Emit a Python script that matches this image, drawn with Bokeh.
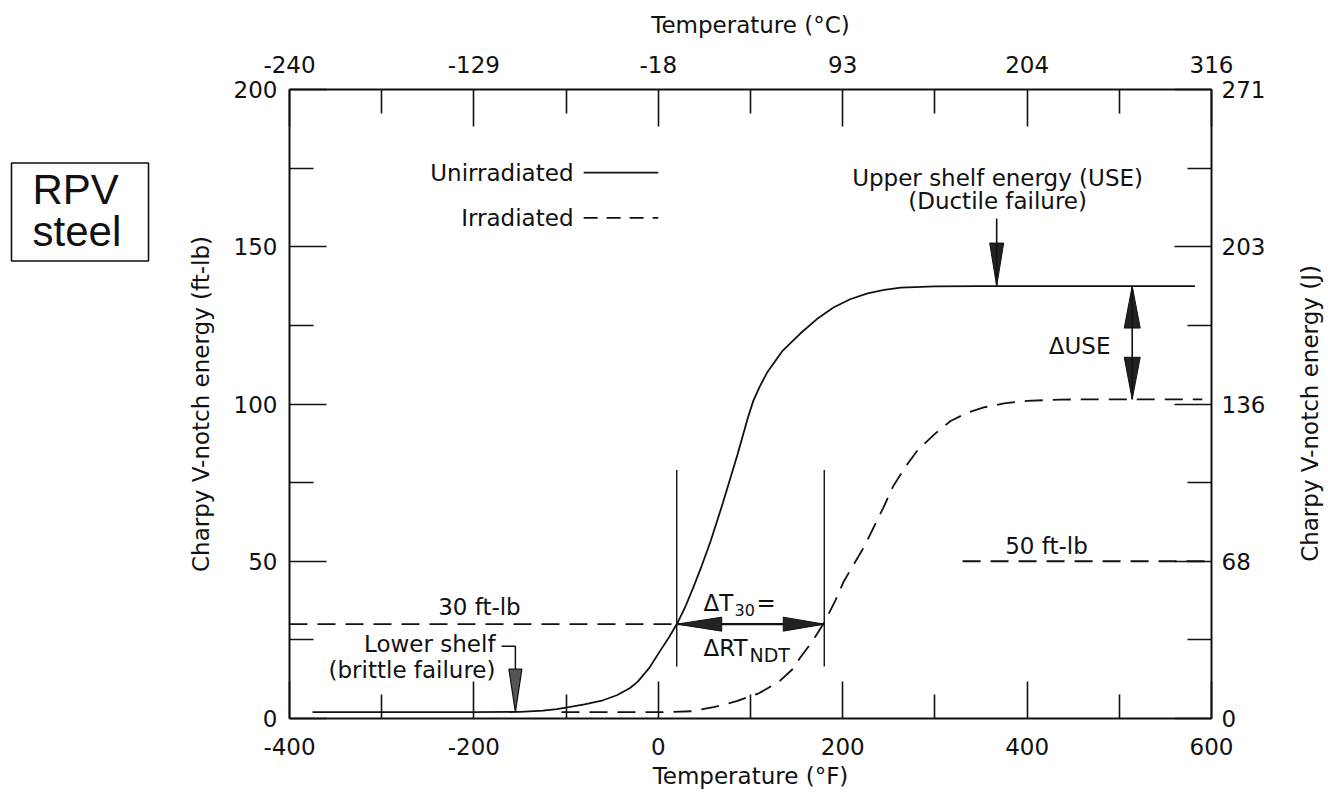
import math
from bokeh.plotting import figure
from bokeh.models import LinearAxis, FixedTicker, Range1d, Label
from bokeh.layouts import row
from bokeh.embed import file_html
from bokeh.resources import INLINE
from bokeh.core.properties import value

# ---------------- data ----------------
temp_unirr_F = [-375, -300, -200, -150, -125, -110, -97, -80, -60, -45, -31, -22, -10, 2, 12, 21,
                30, 38, 47, 57, 70, 86, 97, 103, 110, 118, 135, 154, 172, 190, 208, 227, 245,
                263, 300, 350, 582]
cvn_unirr = [2.0, 2.0, 2.0, 2.1, 2.5, 3.0, 3.6, 4.5, 5.8, 7.4, 9.6, 11.8, 16.0, 21.5, 26.0, 30.5,
             36.0, 41.7, 48.5, 56.6, 68.5, 84.0, 95.5, 101.0, 105.5, 110.0, 117.0, 122.4, 127.0,
             130.7, 133.3, 135.2, 136.3, 137.0, 137.4, 137.5, 137.5]

temp_irr_F = [-105, 0, 36, 60, 85, 109, 130, 145, 154, 167, 180, 192, 201, 212, 223, 234, 244,
              255, 268, 281, 300, 317, 335, 353, 375, 400, 436, 470, 590]
cvn_irr = [2.0, 2.0, 2.3, 3.6, 5.5, 8.0, 11.5, 15.5, 19.4, 24.5, 30.5, 37.5, 43.5, 49.0, 54.5,
           61.0, 67.0, 74.0, 80.0, 85.2, 90.5, 94.6, 97.2, 98.9, 100.2, 101.0, 101.4, 101.5, 101.5]

x_major_F = [-400, -200, 0, 200, 400, 600]
x_minor_F = [-300, -100, 100, 300, 500]
x_labels_F = ["-400", "-200", "0", "200", "400", "600"]
x_labels_C = ["-240", "-129", "-18", "93", "204", "316"]
y_major = [0, 50, 100, 150, 200]
y_minor = [25, 75, 125, 175]
y_labels_ftlb = ["0", "50", "100", "150", "200"]
y_labels_J = ["0", "68", "136", "203", "271"]

# annotation values (ft-lb / degF)
lower_shelf = 2.0
use_unirr = 137.5
use_irr = 101.5
level_30 = 30
level_50 = 50
level_50_start = 330
t30_unirr = 20
t30_irr = 180
t30_bar_lo, t30_bar_hi = 16.5, 79
use_arrow_T, use_arrow_top = 367, 159
duse_T = 514
ls_arrow_T, ls_leader_T, ls_leader_E = -155, -170, 23
legend_line_T = [-81, 0]
legend_text_T = -92
legend_E = [173.6, 159.2]

# ---------------- layout ----------------
FONT = "DejaVu Sans"
FS = "23px"
INK = "#111111"
W_BOX, W_MAIN, W_RIGHT, H = 158, 1113, 55, 796
BL, BR, BT, BB = 131, 60, 89, 78
X0, X1, Y0, Y1 = -400, 600, 0, 200
sx = (W_MAIN - BL - BR) / (X1 - X0)
sy = (H - BT - BB) / (Y1 - Y0)

p = figure(width=W_MAIN, height=H, x_range=Range1d(X0, X1), y_range=Range1d(Y0, Y1),
           output_backend="svg", toolbar_location=None,
           x_axis_location=None, y_axis_location=None,
           min_border_left=BL, min_border_right=BR, min_border_top=BT, min_border_bottom=BB,
           outline_line_color=None, background_fill_color="white", border_fill_color="white")
p.grid.visible = False


def style_axis(ax, major, minor, labels, lab_standoff):
    ax.ticker = FixedTicker(ticks=major, minor_ticks=minor)
    ax.major_label_overrides = {t: s for t, s in zip(major, labels)}
    ax.major_tick_in = 37
    ax.major_tick_out = 0
    ax.minor_tick_in = 24
    ax.minor_tick_out = 0
    ax.axis_line_width = 2
    ax.axis_line_color = INK
    ax.major_tick_line_width = 1.6
    ax.minor_tick_line_width = 1.6
    ax.major_tick_line_color = INK
    ax.minor_tick_line_color = INK
    ax.major_label_text_font = FONT
    ax.major_label_text_font_size = FS
    ax.major_label_text_color = INK
    ax.major_label_standoff = lab_standoff
    ax.axis_label_text_font = FONT
    ax.axis_label_text_font_size = FS
    ax.axis_label_text_font_style = "normal"
    ax.axis_label_text_color = INK


xb = LinearAxis(axis_label="Temperature (°F)")
style_axis(xb, x_major_F, x_minor_F, x_labels_F, 19)
xb.axis_label_standoff = 5
p.add_layout(xb, "below")

xt = LinearAxis(axis_label="Temperature (°C)")
style_axis(xt, x_major_F, x_minor_F, x_labels_C, 17)
xt.axis_label_standoff = 15
p.add_layout(xt, "above")

yl = LinearAxis(axis_label="Charpy V-notch energy (ft-lb)")
style_axis(yl, y_major, y_minor, y_labels_ftlb, 12)
yl.axis_label_standoff = 17
p.add_layout(yl, "left")

yr = LinearAxis()
style_axis(yr, y_major, y_minor, y_labels_J, 10)
p.add_layout(yr, "right")

DASH = "18 10"
LW = 1.8

# curves
p.line(temp_unirr_F, cvn_unirr, line_width=LW, line_color=INK)
p.line(temp_irr_F, cvn_irr, line_width=LW, line_color=INK, line_dash=DASH)

# legend samples
p.line(legend_line_T, [legend_E[0]] * 2, line_width=LW, line_color=INK)
p.line(legend_line_T, [legend_E[1]] * 2, line_width=LW, line_color=INK, line_dash="14 9")

# reference levels
p.line([X0, t30_unirr], [level_30] * 2, line_width=LW, line_color=INK, line_dash=DASH)
p.line([level_50_start, X1], [level_50] * 2, line_width=LW, line_color=INK, line_dash=DASH)

# delta T30 bars
for t in (t30_unirr, t30_irr):
    p.line([t, t], [t30_bar_lo, t30_bar_hi], line_width=1.4, line_color=INK)
p.line([t30_unirr, t30_irr], [level_30] * 2, line_width=2.2, line_color=INK)


def tri(tx, ty, dx, dy, L, hw):
    bx, by = -dx * L, -dy * L
    px, py = -dy, dx
    xs = [tx, tx + (bx + px * hw) / sx, tx + (bx - px * hw) / sx]
    ys = [ty, ty + (by + py * hw) / sy, ty + (by - py * hw) / sy]
    return xs, ys


heads_dark = [
    tri(t30_unirr, level_30, -1, 0, 45, 7),
    tri(t30_irr, level_30, 1, 0, 41, 7),
    tri(use_arrow_T, use_unirr, 0, -1, 43, 7),
    tri(duse_T, use_unirr, 0, 1, 42, 8),
    tri(duse_T, use_irr, 0, -1, 42, 8),
]
p.patches([h[0] for h in heads_dark], [h[1] for h in heads_dark],
          fill_color="#222222", line_color=INK, line_width=1)

# USE arrow shaft and delta-USE shaft
p.line([use_arrow_T, use_arrow_T], [use_arrow_top, use_unirr], line_width=1.6, line_color=INK)
p.line([duse_T, duse_T], [use_irr, use_unirr], line_width=1.6, line_color=INK)

# lower shelf leader + arrow
ls_head = tri(ls_arrow_T, lower_shelf, 0, -1, 43, 6.5)
p.line([ls_leader_T, ls_arrow_T, ls_arrow_T], [ls_leader_E, ls_leader_E, ls_head[1][1]],
       line_width=1.5, line_color=INK)
p.patches([ls_head[0]], [ls_head[1]], fill_color="#555555", line_color=INK, line_width=1.2)


def lab(x, y, text, align="center", size=FS, xo=0, yo=0):
    p.add_layout(Label(x=x, y=y, x_offset=xo, y_offset=yo, text=text, text_align=align,
                       text_baseline="middle", text_font=FONT, text_font_size=size,
                       text_color=INK))


lab(legend_text_T, legend_E[0], "Unirradiated", "right")
lab(legend_text_T, legend_E[1], "Irradiated", "right")
lab(368, 172, "Upper shelf energy (USE)")
lab(368, 164.7, "(Ductile failure)")
lab(457, 118.6, "ΔUSE")
lab(421, 55, "50 ft-lb")
lab(-194, 35.3, "30 ft-lb")
lab(-176.6, 23.8, "Lower shelf", "right")
lab(-176.6, 15.3, "(brittle failure)", "right")
lab(49, 36.6, "ΔT", "left")
lab(49, 36.6, "30", "left", "16px", xo=31, yo=-7)
lab(49, 36.6, "=", "left", FS, xo=53)
lab(49, 22.3, "ΔRT", "left")
lab(49, 22.3, "NDT", "left", "19px", xo=46, yo=-7)

# ---------------- "RPV steel" box ----------------
box_lrtb = (11, 148, 93, 217)
b = figure(width=W_BOX, height=H, x_range=Range1d(0, W_BOX), y_range=Range1d(H, 0),
           output_backend="svg", toolbar_location=None, x_axis_location=None,
           y_axis_location=None, min_border=0, outline_line_color=None)
b.grid.visible = False
b.quad(left=[box_lrtb[0]], right=[box_lrtb[1]], top=[box_lrtb[2]], bottom=[box_lrtb[3]],
       fill_color=None, line_color=INK, line_width=1.6)
b.text(x=[32, 32], y=[127, 180], text=["RPV", "steel"], text_font=value("Liberation Sans"),
       text_font_size="42px", text_baseline="middle", text_align="left", text_color=INK)

# ---------------- right axis title (reads bottom to top) ----------------
r = figure(width=W_RIGHT, height=H, x_range=Range1d(0, W_RIGHT), y_range=Range1d(0, H),
           output_backend="svg", toolbar_location=None, x_axis_location=None,
           y_axis_location=None, min_border=0, outline_line_color=None)
r.grid.visible = False
r.text(x=[38], y=[H - 410], text=["Charpy V-notch energy (J)"], angle=math.pi / 2,
       text_font=value(FONT), text_font_size=FS, text_baseline="middle", text_align="center",
       text_color=INK)

layout = row(b, p, r)
open("out.html", "w").write(file_html(layout, INLINE))
